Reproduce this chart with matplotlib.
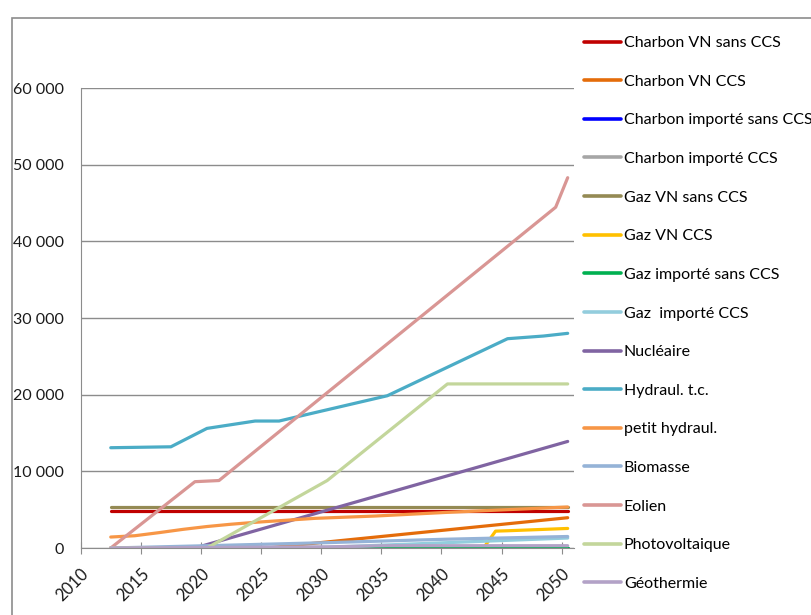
import numpy as np
import matplotlib
matplotlib.use("Agg")
import matplotlib.pyplot as plt
from matplotlib.patches import Rectangle
from matplotlib.ticker import FuncFormatter

plt.rcParams["font.family"] = ["Lato", "DejaVu Sans"]

# installed capacity by technology (MW), breakpoints per series
charbon_vn_sans_ccs_years = [2012, 2050]
charbon_vn_sans_ccs = [4850, 4850]
charbon_vn_ccs_years = [2012, 2025, 2050]
charbon_vn_ccs = [0, 0, 3950]
charbon_imp_sans_ccs_years = [2012, 2050]
charbon_imp_sans_ccs = [0, 0]
charbon_imp_ccs_years = [2012, 2050]
charbon_imp_ccs = [0, 0]
gaz_vn_sans_ccs_years = [2012, 2050]
gaz_vn_sans_ccs = [5300, 5300]
gaz_vn_ccs_years = [2012, 2043, 2044, 2045, 2050]
gaz_vn_ccs = [0, 0, 2200, 2250, 2550]
gaz_imp_sans_ccs_years = [2012, 2050]
gaz_imp_sans_ccs = [0, 0]
gaz_imp_ccs_years = [2012, 2030, 2040, 2050]
gaz_imp_ccs = [0, 100, 700, 1300]
nucleaire_years = [2012, 2019, 2050]
nucleaire = [0, 0, 13900]
hydraul_years = [2012, 2017, 2020, 2024, 2026, 2028, 2035, 2045, 2048, 2050]
hydraul = [13080, 13200, 15600, 16560, 16560, 17300, 19860, 27300, 27650, 28000]
petit_hydraul_years = [2012, 2014, 2016, 2018, 2020, 2022, 2024, 2029, 2034, 2040, 2045, 2050]
petit_hydraul = [1430, 1600, 2000, 2430, 2800, 3100, 3350, 3870, 4170, 4650, 5000, 5350]
biomasse_years = [2012, 2020, 2030, 2040, 2050]
biomasse = [0, 300, 700, 1150, 1500]
eolien_years = [2012, 2019, 2021, 2049, 2050]
eolien = [0, 8650, 8800, 44450, 48300]
pv_years = [2012, 2020, 2030, 2040, 2050]
pv = [0, 0, 8800, 21400, 21400]
geothermie_years = [2012, 2030, 2035, 2050]
geothermie = [0, 150, 300, 300]

series = [
    ("Charbon VN sans CCS", charbon_vn_sans_ccs_years, charbon_vn_sans_ccs, "#C00000"),
    ("Charbon VN CCS", charbon_vn_ccs_years, charbon_vn_ccs, "#E46C0A"),
    ("Charbon importé sans CCS", charbon_imp_sans_ccs_years, charbon_imp_sans_ccs, "#0000FF"),
    ("Charbon importé CCS", charbon_imp_ccs_years, charbon_imp_ccs, "#A6A6A6"),
    ("Gaz VN sans CCS", gaz_vn_sans_ccs_years, gaz_vn_sans_ccs, "#948A54"),
    ("Gaz VN CCS", gaz_vn_ccs_years, gaz_vn_ccs, "#FFC000"),
    ("Gaz importé sans CCS", gaz_imp_sans_ccs_years, gaz_imp_sans_ccs, "#00B050"),
    ("Gaz  importé CCS", gaz_imp_ccs_years, gaz_imp_ccs, "#93CDDD"),
    ("Nucléaire", nucleaire_years, nucleaire, "#8064A2"),
    ("Hydraul. t.c.", hydraul_years, hydraul, "#4BACC6"),
    ("petit hydraul.", petit_hydraul_years, petit_hydraul, "#F79646"),
    ("Biomasse", biomasse_years, biomasse, "#95B3D7"),
    ("Eolien", eolien_years, eolien, "#D99694"),
    ("Photovoltaique", pv_years, pv, "#C3D69B"),
    ("Géothermie", geothermie_years, geothermie, "#B3A2C7"),
]

fig = plt.figure(figsize=(8.11, 6.15), dpi=100)
ax = fig.add_axes([80.7 / 811, 1 - 548 / 615, (573.7 - 80.7) / 811, (548 - 88) / 615])

for name, yrs, vals, col in series:
    # values are yearly averages, placed mid-year
    ax.plot(np.array(yrs) + 0.5, vals, color=col, lw=2.3, label=name,
            solid_capstyle="round", solid_joinstyle="round")

ax.set_xlim(2010, 2051)
ax.set_ylim(0, 60000)
ax.set_xticks(range(2010, 2051, 5))
ax.set_yticks(range(0, 60001, 10000))
ax.yaxis.set_major_formatter(FuncFormatter(lambda v, p: f"{int(v):,}".replace(",", " ")))
ax.grid(axis="y", color="#8C8C8C", lw=1)
ax.set_axisbelow(True)
for s in ["top", "right"]:
    ax.spines[s].set_visible(False)
for s in ["left", "bottom"]:
    ax.spines[s].set_color("#8C8C8C")
ax.tick_params(axis="y", length=0, pad=12, labelsize=11.5, labelcolor="#1a1a1a")
ax.tick_params(axis="x", direction="inout", length=8, color="#8C8C8C",
               labelsize=12, labelcolor="#1a1a1a", pad=9)
for lab in ax.get_xticklabels():
    lab.set_rotation(45)
    lab.set_ha("right")
    lab.set_va("top")
    lab.set_rotation_mode("anchor")

leg = ax.legend(loc="upper left", bbox_to_anchor=(584 / 811, 1 - 36 / 615),
                bbox_transform=fig.transFigure, frameon=False, fontsize=11.5,
                handlelength=2.3, handletextpad=0.2, labelspacing=1.53,
                borderpad=0, borderaxespad=0)
for h in leg.get_lines():
    h.set_linewidth(2.6)

fig.patches.append(Rectangle((12 / 811, -0.1), 1.0, 1.1 - 18 / 615,
                             transform=fig.transFigure, fill=False,
                             edgecolor="#8C8C8C", lw=1.2))

fig.savefig("out.png", dpi=100)
